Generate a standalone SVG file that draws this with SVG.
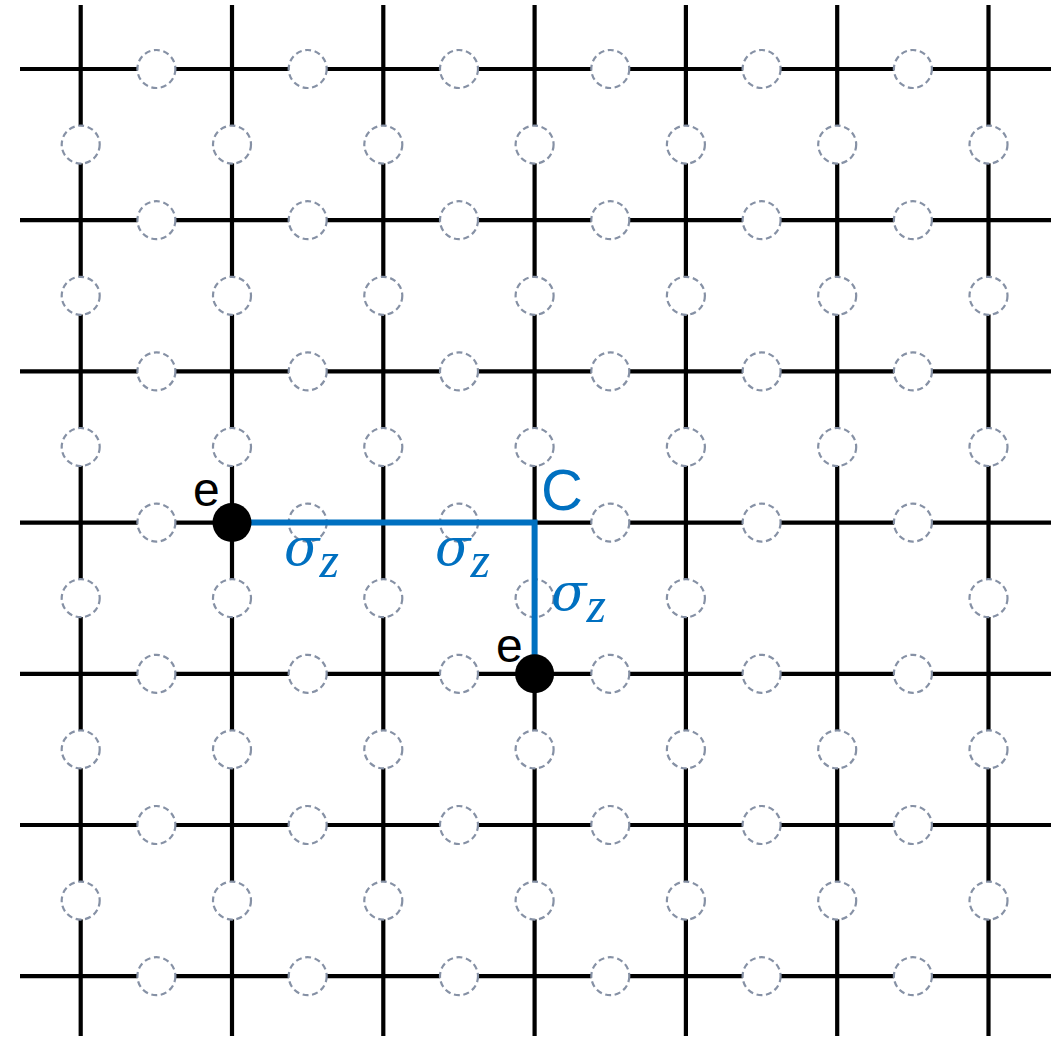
<svg xmlns="http://www.w3.org/2000/svg" width="1063" height="1037" viewBox="0 0 1063 1037">
<style>
.grid line{stroke:#000;stroke-width:4.2;}
.q{fill:#fff;stroke:#8691A5;stroke-width:2.2;stroke-dasharray:6 3.6;}
.path{fill:none;stroke:#0070C0;stroke-width:6;stroke-linejoin:miter;}
.dot{fill:#000;}
.lbl{font-family:"Liberation Sans",Arial,sans-serif;}
.sig{font-family:"DejaVu Serif","Liberation Serif",serif;font-style:italic;fill:#0070C0;}
.sub{font-family:"Liberation Serif","DejaVu Serif",serif;font-style:italic;}
</style>
<rect width="1063" height="1037" fill="#fff"/>
<g id="lattice" class="grid">
<line x1="20" y1="69" x2="1051" y2="69"/>
<line x1="20" y1="220.2" x2="1051" y2="220.2"/>
<line x1="20" y1="371.4" x2="1051" y2="371.4"/>
<line x1="20" y1="522.6" x2="1051" y2="522.6"/>
<line x1="20" y1="673.8" x2="1051" y2="673.8"/>
<line x1="20" y1="825" x2="1051" y2="825"/>
<line x1="20" y1="976.2" x2="1051" y2="976.2"/>
<line x1="80.7" y1="5" x2="80.7" y2="1036"/>
<line x1="232" y1="5" x2="232" y2="1036"/>
<line x1="383.3" y1="5" x2="383.3" y2="1036"/>
<line x1="534.6" y1="5" x2="534.6" y2="1036"/>
<line x1="685.9" y1="5" x2="685.9" y2="1036"/>
<line x1="837.2" y1="5" x2="837.2" y2="1036"/>
<line x1="988.5" y1="5" x2="988.5" y2="1036"/>
</g>
<g id="qubits">
<g id="qh0-0"><circle class="q" cx="156.4" cy="69" r="19"/></g>
<g id="qh0-1"><circle class="q" cx="307.7" cy="69" r="19"/></g>
<g id="qh0-2"><circle class="q" cx="459" cy="69" r="19"/></g>
<g id="qh0-3"><circle class="q" cx="610.3" cy="69" r="19"/></g>
<g id="qh0-4"><circle class="q" cx="761.6" cy="69" r="19"/></g>
<g id="qh0-5"><circle class="q" cx="912.9" cy="69" r="19"/></g>
<g id="qh1-0"><circle class="q" cx="156.4" cy="220.2" r="19"/></g>
<g id="qh1-1"><circle class="q" cx="307.7" cy="220.2" r="19"/></g>
<g id="qh1-2"><circle class="q" cx="459" cy="220.2" r="19"/></g>
<g id="qh1-3"><circle class="q" cx="610.3" cy="220.2" r="19"/></g>
<g id="qh1-4"><circle class="q" cx="761.6" cy="220.2" r="19"/></g>
<g id="qh1-5"><circle class="q" cx="912.9" cy="220.2" r="19"/></g>
<g id="qh2-0"><circle class="q" cx="156.4" cy="371.4" r="19"/></g>
<g id="qh2-1"><circle class="q" cx="307.7" cy="371.4" r="19"/></g>
<g id="qh2-2"><circle class="q" cx="459" cy="371.4" r="19"/></g>
<g id="qh2-3"><circle class="q" cx="610.3" cy="371.4" r="19"/></g>
<g id="qh2-4"><circle class="q" cx="761.6" cy="371.4" r="19"/></g>
<g id="qh2-5"><circle class="q" cx="912.9" cy="371.4" r="19"/></g>
<g id="qh3-0"><circle class="q" cx="156.4" cy="522.6" r="19"/></g>
<g id="qh3-1"><circle class="q" cx="307.7" cy="522.6" r="19"/></g>
<g id="qh3-2"><circle class="q" cx="459" cy="522.6" r="19"/></g>
<g id="qh3-3"><circle class="q" cx="610.3" cy="522.6" r="19"/></g>
<g id="qh3-4"><circle class="q" cx="761.6" cy="522.6" r="19"/></g>
<g id="qh3-5"><circle class="q" cx="912.9" cy="522.6" r="19"/></g>
<g id="qh4-0"><circle class="q" cx="156.4" cy="673.8" r="19"/></g>
<g id="qh4-1"><circle class="q" cx="307.7" cy="673.8" r="19"/></g>
<g id="qh4-2"><circle class="q" cx="459" cy="673.8" r="19"/></g>
<g id="qh4-3"><circle class="q" cx="610.3" cy="673.8" r="19"/></g>
<g id="qh4-4"><circle class="q" cx="761.6" cy="673.8" r="19"/></g>
<g id="qh4-5"><circle class="q" cx="912.9" cy="673.8" r="19"/></g>
<g id="qh5-0"><circle class="q" cx="156.4" cy="825" r="19"/></g>
<g id="qh5-1"><circle class="q" cx="307.7" cy="825" r="19"/></g>
<g id="qh5-2"><circle class="q" cx="459" cy="825" r="19"/></g>
<g id="qh5-3"><circle class="q" cx="610.3" cy="825" r="19"/></g>
<g id="qh5-4"><circle class="q" cx="761.6" cy="825" r="19"/></g>
<g id="qh5-5"><circle class="q" cx="912.9" cy="825" r="19"/></g>
<g id="qh6-0"><circle class="q" cx="156.4" cy="976.2" r="19"/></g>
<g id="qh6-1"><circle class="q" cx="307.7" cy="976.2" r="19"/></g>
<g id="qh6-2"><circle class="q" cx="459" cy="976.2" r="19"/></g>
<g id="qh6-3"><circle class="q" cx="610.3" cy="976.2" r="19"/></g>
<g id="qh6-4"><circle class="q" cx="761.6" cy="976.2" r="19"/></g>
<g id="qh6-5"><circle class="q" cx="912.9" cy="976.2" r="19"/></g>
<g id="qv0-0"><circle class="q" cx="80.7" cy="144.6" r="19"/></g>
<g id="qv0-1"><circle class="q" cx="80.7" cy="295.8" r="19"/></g>
<g id="qv0-2"><circle class="q" cx="80.7" cy="447" r="19"/></g>
<g id="qv0-3"><circle class="q" cx="80.7" cy="598.2" r="19"/></g>
<g id="qv0-4"><circle class="q" cx="80.7" cy="749.4" r="19"/></g>
<g id="qv0-5"><circle class="q" cx="80.7" cy="900.6" r="19"/></g>
<g id="qv1-0"><circle class="q" cx="232" cy="144.6" r="19"/></g>
<g id="qv1-1"><circle class="q" cx="232" cy="295.8" r="19"/></g>
<g id="qv1-2"><circle class="q" cx="232" cy="447" r="19"/></g>
<g id="qv1-3"><circle class="q" cx="232" cy="598.2" r="19"/></g>
<g id="qv1-4"><circle class="q" cx="232" cy="749.4" r="19"/></g>
<g id="qv1-5"><circle class="q" cx="232" cy="900.6" r="19"/></g>
<g id="qv2-0"><circle class="q" cx="383.3" cy="144.6" r="19"/></g>
<g id="qv2-1"><circle class="q" cx="383.3" cy="295.8" r="19"/></g>
<g id="qv2-2"><circle class="q" cx="383.3" cy="447" r="19"/></g>
<g id="qv2-3"><circle class="q" cx="383.3" cy="598.2" r="19"/></g>
<g id="qv2-4"><circle class="q" cx="383.3" cy="749.4" r="19"/></g>
<g id="qv2-5"><circle class="q" cx="383.3" cy="900.6" r="19"/></g>
<g id="qv3-0"><circle class="q" cx="534.6" cy="144.6" r="19"/></g>
<g id="qv3-1"><circle class="q" cx="534.6" cy="295.8" r="19"/></g>
<g id="qv3-2"><circle class="q" cx="534.6" cy="447" r="19"/></g>
<g id="qv3-3"><circle class="q" cx="534.6" cy="598.2" r="19"/></g>
<g id="qv3-4"><circle class="q" cx="534.6" cy="749.4" r="19"/></g>
<g id="qv3-5"><circle class="q" cx="534.6" cy="900.6" r="19"/></g>
<g id="qv4-0"><circle class="q" cx="685.9" cy="144.6" r="19"/></g>
<g id="qv4-1"><circle class="q" cx="685.9" cy="295.8" r="19"/></g>
<g id="qv4-2"><circle class="q" cx="685.9" cy="447" r="19"/></g>
<g id="qv4-3"><circle class="q" cx="685.9" cy="598.2" r="19"/></g>
<g id="qv4-4"><circle class="q" cx="685.9" cy="749.4" r="19"/></g>
<g id="qv4-5"><circle class="q" cx="685.9" cy="900.6" r="19"/></g>
<g id="qv5-0"><circle class="q" cx="837.2" cy="144.6" r="19"/></g>
<g id="qv5-1"><circle class="q" cx="837.2" cy="295.8" r="19"/></g>
<g id="qv5-2"><circle class="q" cx="837.2" cy="447" r="19"/></g>
<g id="qv5-4"><circle class="q" cx="837.2" cy="749.4" r="19"/></g>
<g id="qv5-5"><circle class="q" cx="837.2" cy="900.6" r="19"/></g>
<g id="qv6-0"><circle class="q" cx="988.5" cy="144.6" r="19"/></g>
<g id="qv6-1"><circle class="q" cx="988.5" cy="295.8" r="19"/></g>
<g id="qv6-2"><circle class="q" cx="988.5" cy="447" r="19"/></g>
<g id="qv6-3"><circle class="q" cx="988.5" cy="598.2" r="19"/></g>
<g id="qv6-4"><circle class="q" cx="988.5" cy="749.4" r="19"/></g>
<g id="qv6-5"><circle class="q" cx="988.5" cy="900.6" r="19"/></g>
</g>
<g id="connectors">
<path class="path" d="M232 522.6 H534.6 V673.8"/>
</g>
<g id="error1">
<circle class="dot" cx="232" cy="522.6" r="19.5"/>
<text class="lbl" x="193" y="506" font-size="48" fill="#000">e</text>
</g>
<g id="error2">
<circle class="dot" cx="534.6" cy="673.8" r="19.5"/>
<text class="lbl" x="496" y="662" font-size="48" fill="#000">e</text>
</g>
<g id="chain-label">
<text class="lbl" x="541" y="510" font-size="58" fill="#0070C0">C</text>
</g>
<g id="sigma-labels">
<text class="sig" x="284" y="565" font-size="52">σ<tspan class="sub" font-size="50" dy="12">z</tspan></text>
<text class="sig" x="435" y="565" font-size="52">σ<tspan class="sub" font-size="50" dy="12">z</tspan></text>
<text class="sig" x="551" y="610" font-size="52">σ<tspan class="sub" font-size="50" dy="12">z</tspan></text>
</g>
</svg>
